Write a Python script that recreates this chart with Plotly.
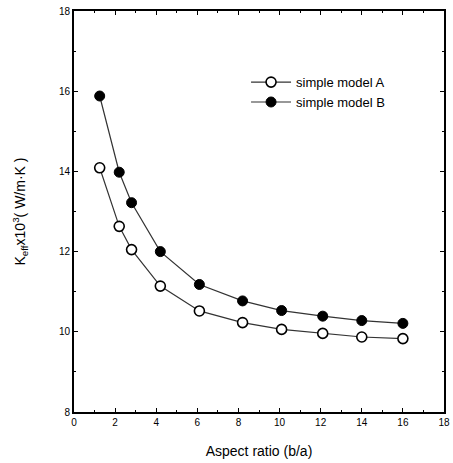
import plotly.graph_objects as go

aspect_ratio = [1.25, 2.2, 2.8, 4.2, 6.1, 8.2, 10.1, 12.1, 14.0, 16.0]
model_a = [14.09, 12.63, 12.05, 11.14, 10.52, 10.23, 10.06, 9.96, 9.87, 9.83]
model_b = [15.88, 13.98, 13.22, 12.0, 11.18, 10.77, 10.53, 10.39, 10.28, 10.21]
x_ticks = [0, 2, 4, 6, 8, 10, 12, 14, 16, 18]
y_ticks = [8, 10, 12, 14, 16, 18]

fig = go.Figure()
fig.add_trace(go.Scatter(
    x=aspect_ratio, y=model_a, mode="lines+markers", name="simple model A",
    line=dict(color="#333333", width=1.2),
    marker=dict(symbol="circle", size=10, color="white", line=dict(color="black", width=1.6)),
))
fig.add_trace(go.Scatter(
    x=aspect_ratio, y=model_b, mode="lines+markers", name="simple model B",
    line=dict(color="#333333", width=1.2),
    marker=dict(symbol="circle", size=10, color="black", line=dict(color="black", width=1)),
))

axis_common = dict(
    showgrid=False, zeroline=False, showline=True, linecolor="black", linewidth=1.8,
    mirror="ticks", ticks="inside", ticklen=4, tickwidth=1.2, tickcolor="black",
    tickfont=dict(family="Liberation Sans, Arial", size=10, color="black"),
    minor=dict(ticks="inside", ticklen=2, tickwidth=1, tickcolor="black", dtick=1),
    ticklabeloverflow="allow",
)

fig.update_xaxes(range=[0, 18], tickvals=x_ticks, ticktext=[str(v) for v in x_ticks],
                 title=dict(text="Aspect ratio (b/a)", font=dict(family="Liberation Sans, Arial", size=14, color="black"), standoff=19),
                 **axis_common)
fig.update_yaxes(range=[8, 18], tickvals=y_ticks, ticktext=[str(v) for v in y_ticks],
                 title=dict(text="K<sub>eff</sub>x10<sup>3</sup>( W/m·K )", font=dict(family="Liberation Sans, Arial", size=14, color="black"), standoff=30),
                 **axis_common)

fig.update_layout(
    width=453, height=463,
    margin=dict(l=74, r=3, t=11, b=51),
    paper_bgcolor="white", plot_bgcolor="white",
    legend=dict(x=0.465, y=0.86, xanchor="left", yanchor="top",
                font=dict(family="Liberation Sans, Arial", size=13, color="black"),
                bgcolor="rgba(0,0,0,0)", itemwidth=40, tracegroupgap=0),
    showlegend=True,
)

fig.write_html("out.html", config={"displayModeBar": False},
               post_script="document.body.style.margin='0';document.body.style.overflow='hidden';")
